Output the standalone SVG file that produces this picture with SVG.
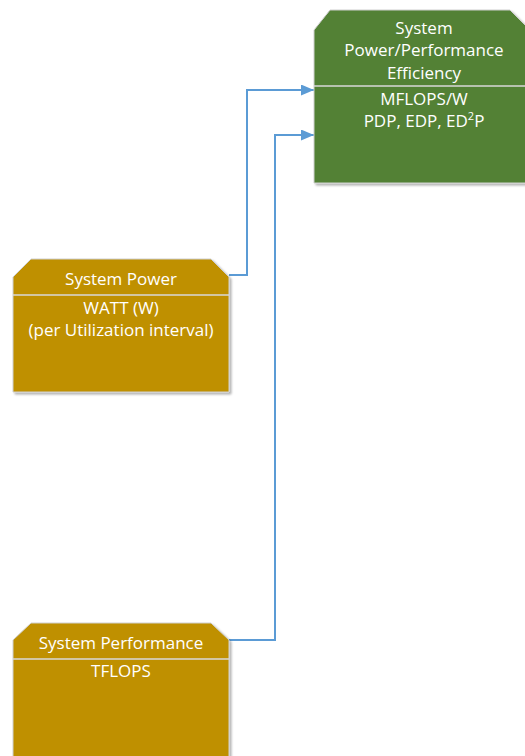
<svg xmlns="http://www.w3.org/2000/svg" width="525" height="756" viewBox="0 0 525 756">
<defs>
<marker id="arr" viewBox="0 0 13 11" refX="13" refY="5.5" markerWidth="13" markerHeight="11" markerUnits="userSpaceOnUse" orient="auto">
<path d="M0,0 L13,5.5 L0,11 z" fill="#5B9BD5"/>
</marker>
<filter id="sh" x="-5%" y="-5%" width="115%" height="115%">
<feDropShadow dx="2" dy="2" stdDeviation="1.2" flood-color="#000" flood-opacity="0.3"/>
</filter>
</defs>
<style>
.gold{fill:#BF9000;stroke:#d0d0d0;stroke-width:1;filter:url(#sh)}
.green{fill:#538135;stroke:#d0d0d0;stroke-width:1;filter:url(#sh)}
.div{stroke:#d9d9d9;stroke-width:1.5;fill:none}
.t{font-family:"Open Sans","Liberation Sans",sans-serif;font-size:17px;fill:#ffffff;text-anchor:middle}
.c{stroke:#5B9BD5;stroke-width:2;fill:none}
</style>
<rect width="525" height="756" fill="#ffffff"/>
<g id="connectors">
<path class="c" d="M229,275 H247 V90 H314" marker-end="url(#arr)"/>
<path class="c" d="M229,640 H275 V135 H314" marker-end="url(#arr)"/>
</g>
<g id="efficiency">
<path class="green" d="M330,10 H510 L530,30 V183 H314 V30 Z"/>
<line class="div" x1="314" y1="86" x2="530" y2="86"/>
<text class="t" x="424" y="34">System</text>
<text class="t" x="424" y="56">Power/Performance</text>
<text class="t" x="424" y="79">Efficiency</text>
<text class="t" x="424" y="105">MFLOPS/W</text>
<text class="t" x="424" y="127">PDP, EDP, ED<tspan dy="-7" font-size="11">2</tspan><tspan dy="7">P</tspan></text>
</g>
<g id="power">
<path class="gold" d="M31,259 H211 L229,277 V392 H13 V277 Z"/>
<line class="div" x1="13" y1="295" x2="229" y2="295"/>
<text class="t" x="121" y="285">System Power</text>
<text class="t" x="121" y="314">WATT (W)</text>
<text class="t" x="121" y="336">(per Utilization interval)</text>
</g>
<g id="performance">
<path class="gold" d="M31,623 H211 L229,640 V770 H13 V640 Z"/>
<line class="div" x1="13" y1="659" x2="229" y2="659"/>
<text class="t" x="121" y="649">System Performance</text>
<text class="t" x="121" y="677">TFLOPS</text>
</g>
</svg>
